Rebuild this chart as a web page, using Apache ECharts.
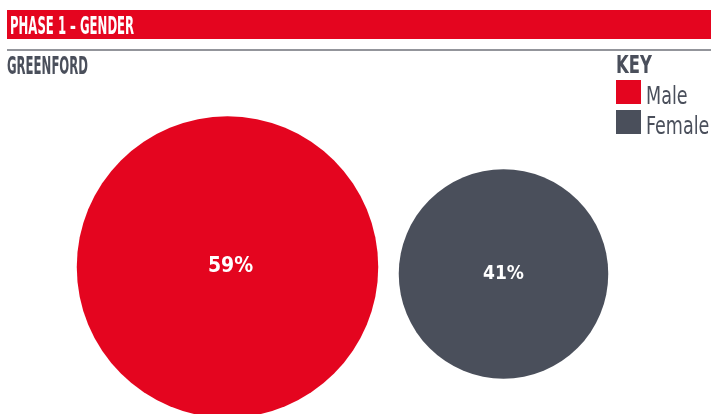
<!DOCTYPE html>
<html>
<head>
<meta charset="utf-8">
<script src="https://cdn.jsdelivr.net/npm/echarts@6/dist/echarts.min.js"></script>
<style>
  html, body { margin: 0; padding: 0; background: #ffffff; }
  #chart { width: 711px; height: 414px; }
</style>
</head>
<body>
<div id="chart"></div>
<script>
// Gender split for the Greenford site, phase 1
const heading = 'PHASE 1 – GENDER';
const site = 'GREENFORD';
const genders = ['Male', 'Female'];
const shares = [59, 41];           // percent of participants
const colors = ['#e4051f', '#4a4f5b'];

const CONDENSED = "'DejaVu Sans Condensed', 'Liberation Sans Narrow', sans-serif";
const RED = '#e4051f';
const SLATE = '#4a4f5b';

// circle diameter grows linearly with the share
const PX_PER_POINT = 5.11;

const series = genders.map((g, i) => ({
  name: g,
  type: 'scatter',
  clip: false,
  data: [[g, site, shares[i]]],
  symbol: 'circle',
  symbolSize: d => d[2] * PX_PER_POINT,
  symbolOffset: i === 1 ? [0, 7] : [0, 0],
  itemStyle: { color: colors[i], opacity: 1 },
  emphasis: { disabled: true },
  label: {
    show: true,
    position: 'inside',
    offset: i === 1 ? [0, 0] : [3, 0],
    formatter: p => p.value[2] + '%',
    color: '#ffffff',
    fontFamily: CONDENSED,
    fontWeight: 'bold',
    fontSize: i === 0 ? 21 : 19
  }
}));

// narrow display text: a condensed face squeezed horizontally, y = top of the text box
function squeezed(str, x, y, size, weight, fill, sx) {
  return {
    type: 'text',
    x: x, y: y,
    scaleX: sx,
    silent: true,
    style: {
      text: str,
      fill: fill,
      font: weight + ' ' + size + 'px ' + CONDENSED,
      verticalAlign: 'top'
    }
  };
}

const legendTop = 80, swatch = 25, rowGap = 30;

const chart = echarts.init(document.getElementById('chart'), null, { renderer: 'canvas' });
chart.setOption({
  animation: false,
  backgroundColor: '#ffffff',
  legend: {
    data: genders,
    orient: 'vertical',
    left: 616,
    top: legendTop,
    padding: 0,
    icon: 'rect',
    itemWidth: swatch,
    itemHeight: 24,
    itemGap: rowGap - 24,
    selectedMode: false,
    formatter: () => '',
    textStyle: { fontSize: 1 }
  },
  grid: { left: 89.5, width: 552, top: 120, height: 295 },
  xAxis: { type: 'category', data: genders, boundaryGap: true, show: false },
  yAxis: { type: 'category', data: [site], show: false },
  graphic: [
    {
      type: 'rect',
      shape: { x: 7, y: 10, width: 704, height: 29 },
      style: { fill: RED },
      silent: true
    },
    squeezed(heading, 10, 14.5, 25, 'bold', '#ffffff', 0.52),
    {
      type: 'line',
      shape: { x1: 7, y1: 50, x2: 711, y2: 50 },
      style: { stroke: '#6f727a', lineWidth: 1.5 },
      silent: true
    },
    squeezed(site, 7, 54.5, 25, 'bold', SLATE, 0.52),
    squeezed('KEY', 616, 55, 24, 'bold', SLATE, 0.76)
  ].concat(genders.map((g, i) =>
    squeezed(g, 646, 85 + i * rowGap, 25, 'normal', SLATE, 0.78)
  )),
  series: series
});
</script>
</body>
</html>
